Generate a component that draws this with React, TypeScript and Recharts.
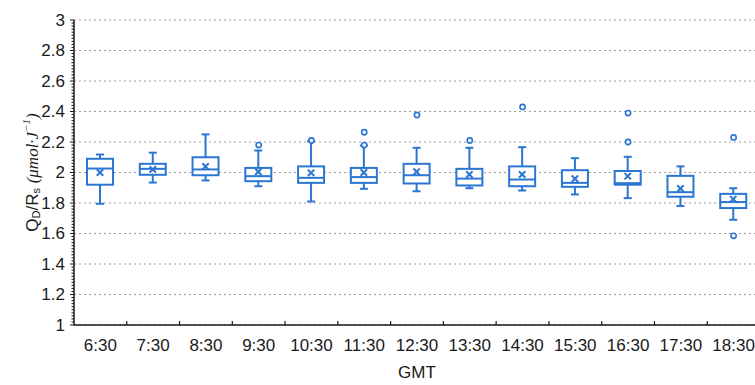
import React from "react";
import {
  ComposedChart,
  Bar,
  Line,
  XAxis,
  YAxis,
  CartesianGrid,
} from "recharts";

const BLUE = "#2b76d2";
const AXIS = "#1a1a1a";
const TEXT = "#1a1a1a";
const FONT = "'Liberation Sans', Arial, sans-serif";

const times = ["6:30", "7:30", "8:30", "9:30", "10:30", "11:30", "12:30", "13:30", "14:30", "15:30", "16:30", "17:30", "18:30"];
const whiskerLow = [1.795, 1.934, 1.948, 1.91, 1.81, 1.893, 1.877, 1.897, 1.882, 1.856, 1.832, 1.78, 1.69];
const q1 = [1.92, 1.985, 1.982, 1.943, 1.932, 1.932, 1.928, 1.915, 1.91, 1.906, 1.92, 1.841, 1.767];
const median = [2.026, 2.024, 2.02, 1.976, 1.965, 1.97, 1.982, 1.96, 1.954, 1.932, 1.93, 1.871, 1.806];
const q3 = [2.09, 2.057, 2.1, 2.03, 2.04, 2.03, 2.057, 2.024, 2.04, 2.015, 2.01, 1.978, 1.86];
const whiskerHigh = [2.118, 2.13, 2.25, 2.144, 2.205, 2.177, 2.162, 2.162, 2.166, 2.094, 2.103, 2.04, 1.897];
const mean = [2.0, 2.02, 2.04, 2.005, 1.998, 2.0, 2.005, 1.987, 1.987, 1.959, 1.976, 1.895, 1.826];
const outlierA = [null, null, null, 2.18, 2.21, 2.264, 2.377, 2.21, 2.43, null, 2.39, null, 2.23];
const outlierB = [null, null, null, null, null, 2.18, null, null, null, null, 2.2, null, 1.585];

const yTicks = [1, 1.2, 1.4, 1.6, 1.8, 2, 2.2, 2.4, 2.6, 2.8, 3];
const yMinorTicks = Array.from({ length: 101 }, (_, i) => +(1 + i * 0.02).toFixed(2));

const data = times.map((t, i) => ({
  time: t,
  range: [whiskerLow[i], whiskerHigh[i]],
  lo: whiskerLow[i],
  q1: q1[i],
  med: median[i],
  q3: q3[i],
  hi: whiskerHigh[i],
  mean: mean[i],
  o1: outlierA[i],
  o2: outlierB[i],
}));

function BoxShape(props: any) {
  const { x, y, width, height, payload } = props;
  if (!payload) return null;
  const top = Math.min(y, y + height);
  const bot = Math.max(y, y + height);
  const { lo, hi } = payload;
  const py = (v: number) => top + ((hi - v) / (hi - lo)) * (bot - top);
  const cx = x + width / 2;
  const cap = 4;
  const yq1 = py(payload.q1);
  const yq3 = py(payload.q3);
  const ym = py(payload.med);
  const ymean = py(payload.mean);
  const s = 3.2;
  return (
    <g stroke={BLUE} strokeWidth={2} fill="none">
      <line x1={cx} x2={cx} y1={top} y2={yq3} />
      <line x1={cx} x2={cx} y1={yq1} y2={bot} />
      <line x1={cx - cap} x2={cx + cap} y1={top} y2={top} />
      <line x1={cx - cap} x2={cx + cap} y1={bot} y2={bot} />
      <rect x={x} y={yq3} width={width} height={yq1 - yq3} fill="#fff" />
      <line x1={x} x2={x + width} y1={ym} y2={ym} />
      <line x1={cx - s} x2={cx + s} y1={ymean - s} y2={ymean + s} />
      <line x1={cx - s} x2={cx + s} y1={ymean + s} y2={ymean - s} />
    </g>
  );
}

// y ticks: every 0.02 gets a short mark, every 0.2 a longer one plus label
function YTick(props: any) {
  const { x, y, payload } = props;
  const v = payload.value;
  const major = yTicks.some((t) => Math.abs(t - v) < 1e-6);
  return (
    <g>
      <line x1={x - (major ? 4 : 2.5)} x2={x} y1={y} y2={y} stroke={AXIS} strokeWidth={1} />
      {major && (
        <text
          x={x - 9}
          y={y}
          textAnchor="end"
          dominantBaseline="central"
          fontFamily={FONT}
          fontSize={17}
          fill={TEXT}
        >
          {v}
        </text>
      )}
    </g>
  );
}

// x ticks: label at the band centre, small upward mark at the band's right edge
function XTick(props: any) {
  const { x, y, payload, index } = props;
  const half = payload.offset || 0;
  return (
    <g>
      {index < times.length - 1 && half > 0 && (
        <line x1={x + half} x2={x + half} y1={y} y2={y - 4} stroke={AXIS} strokeWidth={1.2} />
      )}
      <text
        x={x}
        y={y + 20}
        textAnchor="middle"
        dominantBaseline="central"
        fontFamily={FONT}
        fontSize={17}
        fill={TEXT}
      >
        {payload.value}
      </text>
    </g>
  );
}

function YLabel(props: any) {
  const { viewBox } = props;
  const cy = viewBox.y + viewBox.height / 2;
  const cx = 32;
  return (
    <text
      x={cx}
      y={cy}
      transform={`rotate(-90 ${cx} ${cy})`}
      textAnchor="middle"
      dominantBaseline="central"
      fontFamily={FONT}
      fontSize={17}
      fill={TEXT}
    >
      <tspan>Q</tspan>
      <tspan fontSize={11} dy={4}>D</tspan>
      <tspan dy={-4}>/R</tspan>
      <tspan fontSize={11} dy={4}>s</tspan>
      <tspan dy={-4}> </tspan>
      <tspan fontFamily="'Liberation Serif', serif" fontStyle="italic">(μmol·J</tspan>
      <tspan fontFamily="'Liberation Serif', serif" fontStyle="italic" fontSize={11} dy={-6}>−1</tspan>
      <tspan fontFamily="'Liberation Serif', serif" fontStyle="italic" dy={6}>)</tspan>
    </text>
  );
}

function XLabel(props: any) {
  const { viewBox } = props;
  return (
    <text
      x={viewBox.x + viewBox.width / 2}
      y={372}
      textAnchor="middle"
      dominantBaseline="central"
      fontFamily={FONT}
      fontSize={17}
      fill={TEXT}
    >
      GMT
    </text>
  );
}

export default function App() {
  return (
    <div
      style={{
        position: "absolute",
        left: 0,
        top: 0,
        width: 755,
        height: 385,
        overflow: "hidden",
        background: "#fff",
      }}
    >
      <ComposedChart
        width={762}
        height={385}
        data={data}
        margin={{ top: 20, right: 2, bottom: 0, left: 0 }}
      >
        <CartesianGrid
          vertical={false}
          horizontalValues={yTicks}
          stroke="#9a9a9a"
          strokeDasharray="2 3"
        />
        <XAxis
          dataKey="time"
          height={60}
          tickLine={false}
          axisLine={{ stroke: AXIS, strokeWidth: 1.5 }}
          tickSize={0}
          tickMargin={0}
          tick={<XTick />}
          interval={0}
          label={{ content: <XLabel /> }}
        />
        <YAxis
          type="number"
          domain={[1, 3]}
          ticks={yMinorTicks}
          interval={0}
          width={74}
          allowDataOverflow
          axisLine={{ stroke: AXIS, strokeWidth: 1.5 }}
          tickLine={false}
          tickSize={0}
          tickMargin={0}
          tick={<YTick />}
          label={{ content: <YLabel /> }}
        />
        <Bar
          dataKey="range"
          barSize={26}
          shape={<BoxShape />}
          isAnimationActive={false}
        />
        <Line
          dataKey="o1"
          stroke="none"
          dot={{ r: 2.6, fill: "#fff", stroke: BLUE, strokeWidth: 1.6 }}
          activeDot={false}
          isAnimationActive={false}
        />
        <Line
          dataKey="o2"
          stroke="none"
          dot={{ r: 2.6, fill: "#fff", stroke: BLUE, strokeWidth: 1.6 }}
          activeDot={false}
          isAnimationActive={false}
        />
      </ComposedChart>
    </div>
  );
}
